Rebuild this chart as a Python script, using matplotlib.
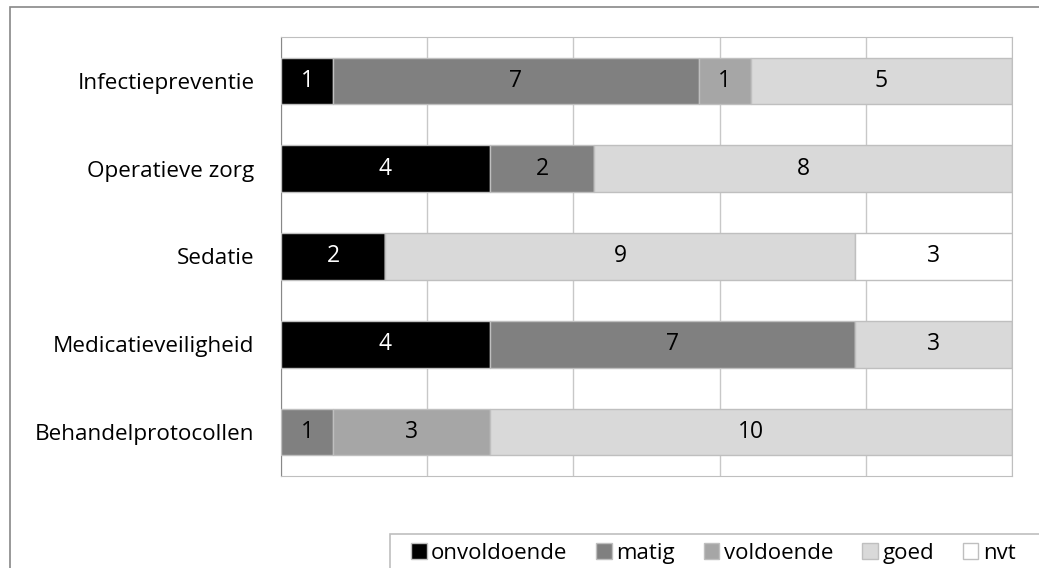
import matplotlib
matplotlib.use("Agg")
import matplotlib.pyplot as plt
import matplotlib.patches as patches
import numpy as np

# Data
categories = ['Infectiepreventie', 'Operatieve zorg', 'Sedatie',
              'Medicatieveiligheid', 'Behandelprotocollen']
onvoldoende = [1, 4, 2, 4, 0]
matig = [7, 2, 0, 7, 1]
voldoende = [1, 0, 0, 0, 3]
goed = [5, 8, 9, 3, 10]
nvt = [0, 0, 3, 0, 0]

series = [('onvoldoende', onvoldoende, '#000000', 'white'),
          ('matig', matig, '#808080', 'black'),
          ('voldoende', voldoende, '#a6a6a6', 'black'),
          ('goed', goed, '#d9d9d9', 'black'),
          ('nvt', nvt, '#ffffff', 'black')]

plt.rcParams['font.family'] = ['Open Sans', 'DejaVu Sans']

fig = plt.figure(figsize=(10.39, 5.68), dpi=100, facecolor='white')
ax = fig.add_axes([281/1039, 1-476/568, 731/1039, 439/568])

totals = np.sum([s[1] for s in series], axis=0)
y = np.arange(len(categories))
left = np.zeros(len(categories))
for name, vals, col, tcol in series:
    w = np.array(vals) / totals
    ax.barh(y, w, left=left, height=0.53, color=col, edgecolor='#bfbfbf',
            linewidth=1, label=name, zorder=3)
    for i, v in enumerate(vals):
        if v > 0:
            ax.text(left[i] + w[i]/2, y[i], str(v), ha='center', va='center',
                    color=tcol, fontsize=16.5, zorder=4)
    left += w

ax.set_xlim(0, 1)
ax.set_ylim(len(categories)-0.5, -0.5)
ax.set_xticks(np.arange(0, 1.01, 0.2))
ax.set_xticklabels([])
ax.tick_params(axis='x', length=0)
ax.grid(axis='x', color='#c8c8c8', linewidth=1, zorder=0)
ax.set_yticks(y)
ax.set_yticklabels(categories, fontsize=16.2)
ax.tick_params(axis='y', length=0, pad=19)
for s in ['top', 'right', 'bottom']:
    ax.spines[s].set_color('#bfbfbf')
ax.spines['left'].set_color('#888888')

leg = ax.legend(loc='lower left', bbox_to_anchor=(400/1039, -0.012), bbox_transform=fig.transFigure,
                ncol=5, frameon=False, fontsize=16, handlelength=0.7, handleheight=0.7,
                handletextpad=0.2, columnspacing=1.3, borderaxespad=0.1)

# legend box and outer chart border
fig.add_artist(patches.Rectangle((389.5/1039, -0.01), 0.7, 1-533.5/568+0.01, fill=False,
                                 edgecolor='#bfbfbf', linewidth=1.2, transform=fig.transFigure))
fig.add_artist(patches.Rectangle((9.5/1039, -0.01), 1.1, 1-7.5/568+0.01, fill=False,
                                 edgecolor='#888888', linewidth=1.2, transform=fig.transFigure))

fig.savefig('out.png', dpi=100)
